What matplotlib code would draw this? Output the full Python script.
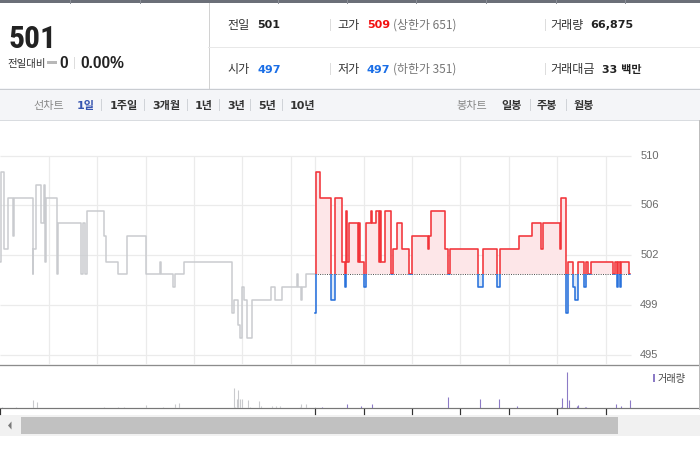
import matplotlib
matplotlib.use("Agg")
import matplotlib.pyplot as plt
import numpy as np
from matplotlib import font_manager
from matplotlib.patches import Rectangle, Polygon
from matplotlib.transforms import blended_transform_factory

# ---------------- data ----------------
prev_close = 501
session_len = 390  # minutes from 09:00 to 15:30

# previous day (minutes after 09:00, price) - step series
prev_times = [0, 1, 5, 10, 16, 17, 40, 41, 44, 51, 54, 55, 57, 70, 71, 100, 102, 105, 107,
              128, 131, 146, 157, 180, 198, 199, 214, 216, 227, 287, 289, 295, 297, 300,
              302, 306, 312, 335, 340, 349, 368, 369, 372, 374, 379]
prev_prices = [502, 509, 503, 507, 504, 507, 501, 503, 508, 505, 508, 502, 507, 501, 505, 501,
               505, 501, 506, 504, 502, 501, 504, 501, 502, 501, 500, 501, 502, 498, 499, 497,
               496, 500, 499, 496, 499, 500, 499, 500, 501, 500, 499, 500, 501]

# today (minutes after 09:00, price) - step series
today_times = [0, 0.5, 6, 20, 25, 33, 36.5, 38, 40, 41.5, 53, 54, 55, 60.5, 63.5, 69, 70, 76, 79,
               80.5, 82, 86, 94.5, 96.5, 101, 107.5, 116, 119.5, 139.5, 141, 143, 161, 164.5,
               166.5, 202, 208.5, 225.5, 228.5, 253, 268, 279.5, 282.5, 303.5, 304.5, 311, 313,
               319.5, 322, 325.5, 333, 335.5, 337.5, 341.5, 369, 371, 374, 375.5, 377, 378.5, 389]
today_prices = [498, 509, 507, 499, 507, 502, 500, 506, 502, 505, 502, 505, 502, 500, 505, 506,
                505, 506, 502, 506, 502, 506, 501, 503, 505, 503, 501, 504, 503, 504, 506, 503,
                501, 503, 500, 503, 500, 503, 504, 505, 503, 505, 503, 507, 498, 502, 500, 499,
                502, 500, 502, 501, 502, 501, 502, 500, 502, 500, 502, 501]

# volume (minutes after 09:00, shares)
prev_vol_times = [2, 20, 40, 45, 128, 146, 153, 180, 201, 216, 222, 289, 291, 293, 294, 295,
                  297, 299, 307, 309, 321, 323, 336, 341, 347, 371, 372, 379, 390]
prev_vol = [700, 700, 4500, 3100, 700, 700, 700, 1800, 700, 2300, 2900, 11000, 700, 5000,
            5000, 9900, 5000, 5000, 4500, 700, 3900, 1200, 1200, 1200, 1200, 700, 2300, 2300, 700]
today_vol_times = [8, 40, 57, 71, 165, 204, 228, 250, 305, 306, 312, 314, 324, 326, 334, 336,
                   372, 379, 390]
today_vol = [700, 2300, 1200, 2300, 6100, 5000, 5000, 1200, 700, 5600, 19600, 4500, 1200,
             1800, 700, 700, 2300, 1200, 4500]

grid_levels = [494.7, 498.6, 502.5, 506.4, 510.3]
grid_labels = ["495", "499", "502", "506", "510"]
hour_marks = [60, 120, 180, 240, 300, 360]

# ---------------- style ----------------
W, H = 700, 450
RED = "#f2343a"
BLUE = "#2a72dc"
PINK = "#fde6e8"
LBLUE = "#dde9f8"
GRAY_LINE = "#c9cbcf"
GRID = "#ebebeb"
PURPLE = "#8c7bc6"
VGRAY = "#c9cacd"

names = {f.name for f in font_manager.fontManager.ttflist}
KR = ["Noto Sans CJK KR", "DejaVu Sans"]
NUMKR = ["DejaVu Sans", "Noto Sans CJK KR"]
ARIAL = ["Liberation Sans", "DejaVu Sans"]
BIG, BIG_SIZE = ["Liberation Sans"], 21
for cand, sz in [("Liberation Sans Narrow", 23.3), ("Roboto Condensed", 22.8), ("Open Sans Condensed", 22.8)]:
    if cand in names:
        BIG, BIG_SIZE = [cand], sz
        break

PX_PER_MIN = 0.8075
X0 = -0.25
X1 = X0 + 698 / PX_PER_MIN
Y_PER_PX = 1 / 12.75
YTOP = prev_close + (274.3 - 120) * Y_PER_PX
YBOT = prev_close - (365 - 274.3) * Y_PER_PX

fig = plt.figure(figsize=(W / 100, H / 100), dpi=100)
fig.patch.set_facecolor("white")

# background / layout axes in pixel coordinates
bg = fig.add_axes([0, 0, 1, 1], zorder=0)
bg.set_xlim(0, W)
bg.set_ylim(H, 0)
bg.axis("off")


def pxlw(p):
    return p * 0.72


# header
bg.add_patch(Rectangle((0, 0), W, 2.7, fc="#6b6f78", ec="none"))
for sx in (70, 140, 278, 347, 416, 486, 556, 625):
    bg.plot([sx, sx], [0, 2.7], color="#8a8e96", lw=pxlw(1))
bg.plot([208.5, 208.5], [3, 88], color="#d2d2d2", lw=pxlw(1))
bg.plot([208, W], [46.5, 46.5], color="#e8e8e8", lw=pxlw(1))

bg.text(8, 47.7, "501", fontsize=BIG_SIZE, fontweight="bold", family=BIG, color="#222", va="baseline")
bg.text(7, 67, "전일대비", fontsize=7.5, family=KR, color="#333", va="baseline")
bg.add_patch(Rectangle((46.7, 61), 10.6, 2.5, fc="#b8b8b8", ec="none"))
bg.text(59.5, 67.7, "0", fontsize=11.2, fontweight="bold", family=ARIAL, color="#222", va="baseline")
bg.plot([74, 74], [57, 68], color="#dddddd", lw=pxlw(1))
bg.text(80, 67.7, "0.00%", fontsize=11.2, fontweight="bold", family=ARIAL, color="#222", va="baseline")

row1, row2 = 28.5, 72.8
lab_kw = dict(fontsize=8.7, family=KR, color="#333", va="baseline")
val_kw = dict(fontsize=8.0, fontweight="bold", family=NUMKR, va="baseline")
sub_kw = dict(fontsize=8.6, family=KR, color="#777", va="baseline")

bg.text(227, row1, "전일", **lab_kw)
bg.text(257, row1, "501", color="#222", **val_kw)
bg.text(337, row1, "고가", **lab_kw)
bg.text(366.7, row1, "509", color="#f21010", **val_kw)
bg.text(393, row1, "(상한가 651)", **sub_kw)
bg.text(550, row1, "거래량", **lab_kw)
bg.text(590.7, row1, "66,875", color="#222", **val_kw)

bg.text(227, row2, "시가", **lab_kw)
bg.text(257, row2, "497", color="#1a6ee6", **val_kw)
bg.text(337, row2, "저가", **lab_kw)
bg.text(366.7, row2, "497", color="#1a6ee6", **val_kw)
bg.text(393, row2, "(하한가 351)", **sub_kw)
bg.text(550, row2, "거래대금", **lab_kw)
bg.text(601.7, row2, "33 백만", color="#222", **val_kw)

for sx in (330, 545):
    for yy in (row1, row2):
        bg.plot([sx, sx], [yy - 10, yy + 1], color="#dddddd", lw=pxlw(1))

# toolbar
bg.add_patch(Rectangle((0, 88), W, 31.5, fc="#f4f5f8", ec="none"))
bg.plot([0, W], [88.5, 88.5], color="#c9ccd1", lw=pxlw(1))
bg.plot([0, W], [119.5, 119.5], color="#d9dce0", lw=pxlw(1))
tb = 109
bg.text(33, tb, "선차트", fontsize=8, family=KR, color="#888", va="baseline")
bg.text(77, tb, "1일", fontsize=8, fontweight="bold", family=NUMKR, color="#3654b0", va="baseline")
for xx, s in [(110, "1주일"), (152, "3개월"), (195, "1년"), (227, "3년"), (258, "5년"), (290, "10년"),
              (501, "일봉"), (537, "주봉"), (574, "월봉")]:
    bg.text(xx, tb, s, fontsize=8, fontweight="bold", family=NUMKR, color="#333", va="baseline")
bg.text(456.7, tb, "봉차트", fontsize=8, family=KR, color="#888", va="baseline")
for sx in (101, 144, 187, 219, 250, 282, 530, 566):
    bg.plot([sx, sx], [99, 110], color="#d0d3d8", lw=pxlw(1))

# scrollbar
bg.add_patch(Rectangle((0, 415), W, 21, fc="#f1f1f1", ec="none"))
bg.add_patch(Rectangle((21, 417), 597, 17, fc="#c1c1c1", ec="none"))
bg.add_patch(Polygon([(8, 425.5), (11.5, 421.5), (11.5, 429.5)], closed=True, fc="#7a7a7a", ec="none"))

# borders
bg.plot([0, 698], [365.3, 365.3], color="#8c8c8c", lw=pxlw(1.3), zorder=5)
bg.plot([0, 698], [408.3, 408.3], color="#777777", lw=pxlw(1.2), zorder=5)
bg.plot([698.5, 698.5], [120, 408.5], color="#bdbdbd", lw=pxlw(1), zorder=5)

# legend of volume
bg.add_patch(Rectangle((653, 374), 2.4, 8, fc=PURPLE, ec="none"))
bg.text(658, 382, "거래량", fontsize=7.3, family=KR, color="#444", va="baseline")


# ---------------- main price axes ----------------
def steps(t, p, end, offset=0):
    xs, ys = [], []
    for i in range(len(t)):
        t1 = t[i + 1] if i + 1 < len(t) else end
        xs += [t[i] + offset, t1 + offset]
        ys += [p[i], p[i]]
    return np.array(xs, float), np.array(ys, float)


ax = fig.add_axes([0, (H - 365) / H, 698 / W, (365 - 120) / H], zorder=1)
ax.set_facecolor("none")
ax.set_xlim(X0, X1)
ax.set_ylim(YBOT, YTOP)
ax.axis("off")

x_grid = hour_marks + [session_len] + [session_len + h for h in hour_marks]
grid_end = session_len * 2 + 1
ax.hlines(grid_levels, 0, grid_end, colors=GRID, lw=pxlw(1.2), zorder=0)
ax.vlines(x_grid, YBOT, grid_levels[-1], colors=GRID, lw=pxlw(1.2), zorder=0)

for lv, lb in zip(grid_levels, grid_labels):
    ax.text(grid_end + 11.5, lv, lb, fontsize=8, family=ARIAL, color="#6a6a6a",
            ha="left", va="center")

px_, py_ = steps(prev_times, prev_prices, session_len)
ax.plot(px_, py_, color=GRAY_LINE, lw=pxlw(1.5), zorder=3)

tx, ty = steps(today_times, today_prices, session_len, offset=session_len)
ax.fill_between(tx, ty, prev_close, where=ty >= prev_close, interpolate=True,
                color=PINK, lw=0, zorder=1)
ax.fill_between(tx, ty, prev_close, where=ty <= prev_close, interpolate=True,
                color=LBLUE, lw=0, zorder=1)
ax.hlines(prev_close, session_len, session_len * 2, colors="#555555",
          linestyles=(0, (1, 1.3)), lw=pxlw(1), zorder=2)

lr, = ax.plot(tx, ty, color=RED, lw=pxlw(1.6), zorder=3)
lr.set_clip_path(Rectangle((session_len - 1, prev_close), 500, 30, transform=ax.transData))
lb_, = ax.plot(tx, ty, color=BLUE, lw=pxlw(1.6), zorder=3)
lb_.set_clip_path(Rectangle((session_len - 1, prev_close - 30), 500, 30, transform=ax.transData))

# ---------------- volume axes ----------------
vax = fig.add_axes([0, (H - 408) / H, 698 / W, (408 - 366) / H], zorder=1)
vax.set_facecolor("none")
vax.set_xlim(X0, X1)
vax.set_ylim(0, 22700)
vax.axis("off")
vax.vlines(prev_vol_times, 0, prev_vol, colors=VGRAY, lw=pxlw(1.1))
vax.vlines([session_len + t for t in today_vol_times], 0, today_vol, colors=PURPLE, lw=pxlw(1.1))

trans = blended_transform_factory(vax.transData, bg.transData)
tick_x = [0, session_len] + [session_len + h for h in hour_marks]
for xx in tick_x:
    vax.plot([xx, xx], [408.5, 413.5], color="#333333", lw=pxlw(1.2), transform=trans,
             clip_on=False)

fig.savefig("out.png", dpi=100, facecolor="white")
